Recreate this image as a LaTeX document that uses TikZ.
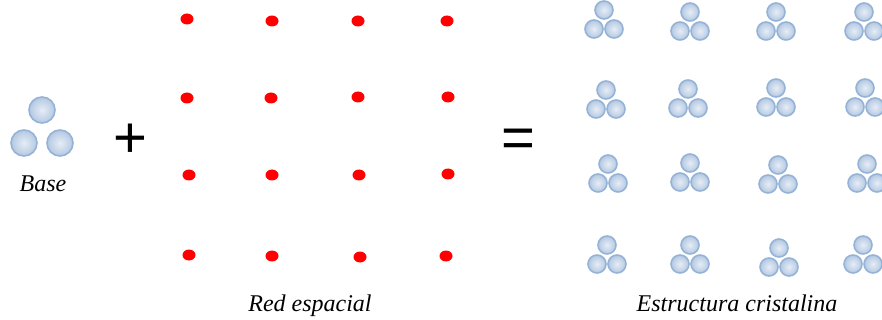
\documentclass[tikz,border=0pt]{standalone}
\usepackage{fontspec}
\setmainfont{Liberation Serif}
\newfontfamily\sansf{Liberation Sans}
\usepackage{tikz}
\usetikzlibrary{shapes.geometric}
\definecolor{sphedge}{HTML}{95B3D7}
\definecolor{sphin}{HTML}{E6EDF6}
\definecolor{sphout}{HTML}{B4C8E2}
\tikzset{
  sph/.style={circle, draw=sphedge, line width=1.6pt, inner color=sphin, outer color=sphout, minimum size=#1, inner sep=0pt},
  pt/.style={ellipse, fill=red, minimum width=13pt, minimum height=11pt, inner sep=0pt},
  lbl/.style={font=\fontsize{24}{28}\selectfont\itshape},
  op/.style={font=\sansf\fontsize{58}{58}\selectfont, inner sep=0pt},
}
\newcommand{\cluster}[3]{%
  \node[sph=18pt] (#3t) at (#1,#2) {};
  \node[sph=18pt] (#3l) at (#1-10,#2+19) {};
  \node[sph=18pt] (#3r) at (#1+10,#2+19) {};
}
\begin{document}
\begin{tikzpicture}[x=1pt,y=-1pt]
\useasboundingbox (0,0) rectangle (882,320);
% base
\node[sph=26pt] (bt) at (42,110) {};
\node[sph=26pt] (bl) at (24,143) {};
\node[sph=26pt] (br) at (60,143) {};
\node[lbl] (base) at (43,184) {Base};
\node[op] (plus) at (130,141) {+};
\node[op] (eq) at (518,143) {=};
% lattice
\node[pt] (p11) at (187,19) {};
\node[pt] (p12) at (272,21) {};
\node[pt] (p13) at (358,21) {};
\node[pt] (p14) at (447,21) {};
\node[pt] (p21) at (187,98) {};
\node[pt] (p22) at (271,98) {};
\node[pt] (p23) at (358,97) {};
\node[pt] (p24) at (448,97) {};
\node[pt] (p31) at (189,175) {};
\node[pt] (p32) at (272,175) {};
\node[pt] (p33) at (359,175) {};
\node[pt] (p34) at (448,174) {};
\node[pt] (p41) at (189,255) {};
\node[pt] (p42) at (272,256) {};
\node[pt] (p43) at (360,257) {};
\node[pt] (p44) at (446,256) {};
\node[lbl] (red) at (310,306) {Red espacial};
% crystal
\cluster{604}{10}{c11}
\cluster{690}{12}{c12}
\cluster{776}{12}{c13}
\cluster{864}{12}{c14}
\cluster{606}{90}{c21}
\cluster{688}{89}{c22}
\cluster{776}{88}{c23}
\cluster{865}{88}{c24}
\cluster{608}{164}{c31}
\cluster{690}{163}{c32}
\cluster{778}{165}{c33}
\cluster{867}{164}{c34}
\cluster{607}{245}{c41}
\cluster{690}{245}{c42}
\cluster{779}{248}{c43}
\cluster{863}{245}{c44}
\node[lbl] (cry) at (737,303) {Estructura cristalina};
\end{tikzpicture}
\end{document}
